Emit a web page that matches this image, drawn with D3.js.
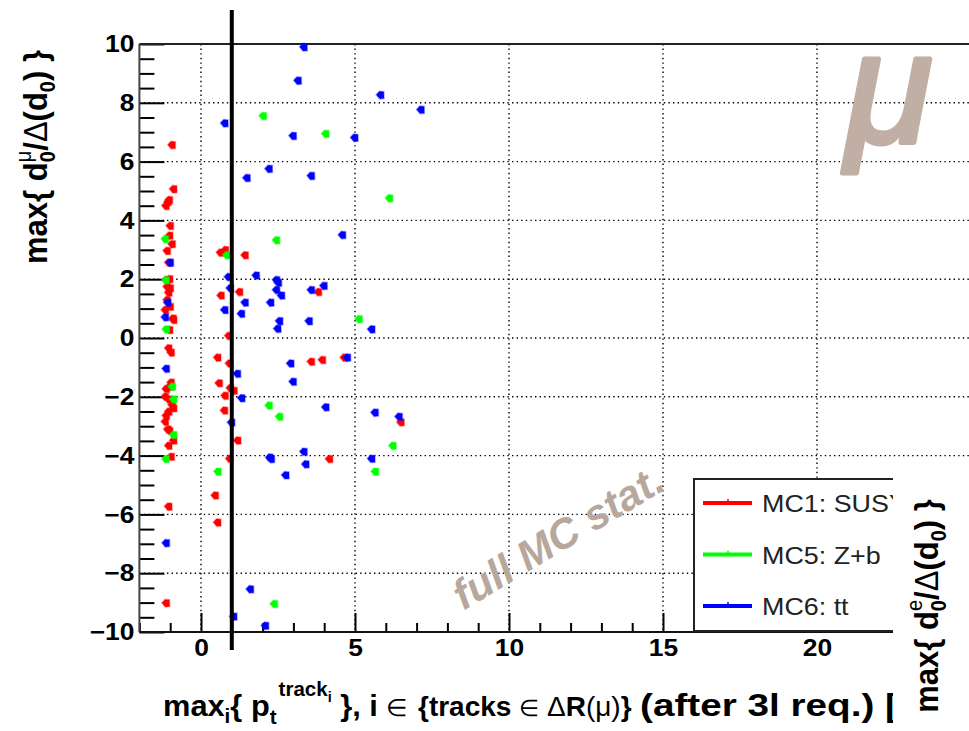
<!DOCTYPE html>
<html><head><meta charset="utf-8">
<script src="https://cdn.jsdelivr.net/npm/d3@7"></script>
<style>
body{margin:0;background:#fff}
svg{display:block}
text{font-family:"Liberation Sans",Arial,Helvetica,sans-serif}
</style></head><body>
<svg id="chart" width="969" height="731"></svg>
<script>
// MC1: SUSY
const susyX=[-0.95,-0.90,-1.04,-1.08,-1.15,-1.01,-1.03,-0.95,-1.11,-1.06,-1.14,-1.03,-1.11,-1.01,-1.06,-1.11,-1.17,-1.01,-0.92,-0.90,-1.03,-1.06,-0.98,-0.98,-1.03,-1.14,-1.17,-1.06,-0.95,-0.90,-1.06,-1.14,-1.17,-1.09,-1.03,-0.90,-1.06,-0.98,-1.06,-1.14,
  0.62,0.78,1.42,0.64,1.24,3.80,0.89,0.53,0.91,3.57,3.93,4.64,0.58,0.94,1.06,0.77,0.75,6.48,1.18,0.92,4.16,0.45,0.53];
const susyY=[6.56,5.06,4.69,4.62,4.49,3.81,3.48,3.19,2.96,2.56,1.97,2.00,1.74,1.69,1.54,1.29,0.95,1.06,0.66,0.61,0.27,-0.35,-0.50,-1.52,-1.66,-1.74,-2.00,-2.09,-2.28,-2.39,-2.51,-2.65,-2.85,-3.11,-3.16,-3.49,-3.67,-4.04,-5.74,-9.02,
  2.90,2.99,2.81,1.44,1.56,1.56,0.07,-0.67,-0.87,-0.81,-0.75,-0.67,-1.54,-1.71,-1.80,-1.97,-2.47,-2.87,-3.49,-4.11,-4.12,-5.36,-6.28];
// MC5: Z+b
const zbX=[2.01,4.04,6.11,2.44,-1.17,0.83,-1.15,-1.14,5.12,-0.94,-0.90,2.20,2.54,-0.90,6.22,-1.15,0.54,5.65,2.37];
const zbY=[7.55,6.94,4.75,3.32,3.36,2.81,1.96,0.29,0.64,-1.66,-2.09,-2.30,-2.68,-3.30,-3.67,-4.12,-4.55,-4.55,-9.05];
// MC6: tt
const ttX=[3.33,3.14,5.82,7.13,0.76,2.98,4.98,2.20,1.48,3.57,4.58,-1.01,0.88,1.78,2.44,2.50,2.44,2.60,3.57,3.98,0.94,1.42,2.25,-1.09,0.76,1.30,2.54,3.50,-1.17,2.48,5.53,
  2.90,4.74,1.17,-1.14,2.98,1.31,4.04,5.64,6.42,0.98,2.22,2.27,3.33,3.39,5.53,2.74,-1.14,1.59,1.05,2.08];
const ttY=[9.89,8.75,8.26,7.76,7.30,6.87,6.81,5.75,5.44,5.51,3.50,2.56,2.07,2.12,1.97,1.88,1.63,1.44,1.63,1.77,1.69,1.20,1.20,1.20,0.95,0.82,0.57,0.57,0.70,0.31,0.29,
  -0.87,-0.67,-1.22,-1.05,-1.49,-2.05,-2.36,-2.54,-2.68,-2.88,-4.07,-4.12,-3.87,-4.30,-4.11,-4.67,-6.98,-8.55,-9.48,-9.79];

const seriesNames=["MC1: SUSY","MC5: Z+b","MC6: tt"];
const seriesColors=["#ff0000","#00ff00","#0000ff"];
const seriesX=[susyX,zbX,ttX];
const seriesY=[susyY,zbY,ttY];

const xMajor=[0,5,10,15,20];
const yMajor=[-10,-8,-6,-4,-2,0,2,4,6,8,10];
const xGrid=[0,5,10,15,20];
const yGrid=[-8,-6,-4,-2,0,2,4,6,8];
const cutValue=1;

const svg=d3.select("#chart");
const x=d3.scaleLinear().domain([-2,25]).range([139.4,971]);
const y=d3.scaleLinear().domain([-10,10]).range([632,44]);
const plotLeft=x(-2), plotTop=y(10), plotBottom=y(-10);

svg.append("rect").attr("width",969).attr("height",731).attr("fill","#fff");

// dotted grid
const grid=svg.append("g").attr("stroke","#000").attr("stroke-width",1.4).attr("stroke-dasharray","1.4 3.2");
grid.selectAll(".gy").data(yGrid).join("line").attr("class","gy")
  .attr("x1",plotLeft).attr("x2",969).attr("y1",d=>y(d)).attr("y2",d=>y(d));
grid.selectAll(".gx").data(xGrid).join("line").attr("class","gx")
  .attr("x1",d=>x(d)).attr("x2",d=>x(d)).attr("y1",plotTop).attr("y2",plotBottom);

// axes (ticks point inward)
const minorY=d3.range(-10,10.01,0.5).filter(v=>Math.abs(v%2)>0.01);
const minorX=d3.range(-2,25.01,1).filter(v=>Math.abs(v%5)>0.01);

const yAxis=svg.append("g").attr("transform",`translate(${plotLeft},0)`)
  .call(d3.axisLeft(y).tickValues(yMajor).tickSize(-25).tickSizeOuter(0).tickPadding(5).tickFormat(d3.format("d")));
svg.append("g").attr("transform",`translate(${plotLeft},0)`)
  .call(d3.axisLeft(y).tickValues(minorY).tickSize(-15).tickSizeOuter(0).tickFormat(""));
const xAxis=svg.append("g").attr("transform",`translate(0,${plotBottom})`)
  .call(d3.axisBottom(x).tickValues(xMajor).tickSize(-19).tickSizeOuter(0).tickPadding(7).tickFormat(d3.format("d")));
svg.append("g").attr("transform",`translate(0,${plotBottom})`)
  .call(d3.axisBottom(x).tickValues(minorX).tickSize(-9).tickSizeOuter(0).tickFormat(""));

svg.selectAll(".domain").remove();
svg.selectAll(".tick line").attr("stroke","#000").attr("stroke-width",2);
yAxis.selectAll("text").attr("font-size",24).attr("font-weight","bold").attr("fill","#000")
  .attr("font-family","'Liberation Sans',Arial,sans-serif")
  .attr("x",-5/1.1).attr("transform","scale(1.1,1)");
xAxis.selectAll("text").attr("font-size",24).attr("font-weight","bold").attr("fill","#000")
  .attr("font-family","'Liberation Sans',Arial,sans-serif")
  .attr("transform","scale(1.1,1)");

// frame
svg.append("line").attr("x1",plotLeft).attr("x2",969).attr("y1",plotTop).attr("y2",plotTop).attr("stroke","#222").attr("stroke-width",2);
svg.append("line").attr("x1",plotLeft).attr("x2",plotLeft).attr("y1",plotTop).attr("y2",plotBottom).attr("stroke","#444").attr("stroke-width",2);
svg.append("line").attr("x1",plotLeft).attr("x2",969).attr("y1",plotBottom).attr("y2",plotBottom).attr("stroke","#111").attr("stroke-width",2);

// markers
const markerPath="M-4,-0.4L-0.8,-3.8L3.6,-3.4L3.7,3.4L-0.6,3.7Z";
const pts=svg.append("g");
seriesX.forEach((xs,i)=>{
  pts.append("g").selectAll("path").data(xs.map((v,j)=>[v,seriesY[i][j]])).join("path")
    .attr("d",markerPath)
    .attr("transform",d=>`translate(${x(d[0])},${y(d[1])})`)
    .attr("fill",seriesColors[i])
    .attr("stroke",seriesColors[i]).attr("stroke-opacity",0.35).attr("stroke-width",1.6);
});

// selection cut
svg.append("line").attr("x1",x(cutValue)).attr("x2",x(cutValue)).attr("y1",10).attr("y2",650)
  .attr("stroke","#000").attr("stroke-width",4);

// channel symbol
svg.append("text").attr("x",889).attr("y",142).attr("text-anchor","middle")
  .attr("font-family","'Liberation Serif','Times New Roman',serif").attr("font-style","italic")
  .attr("font-size",158).attr("fill","#c1aea4").attr("stroke","#c1aea4").attr("stroke-width",5)
  .attr("stroke-linejoin","round").text("μ");

// statistics note
svg.append("text").attr("transform","translate(558,537) rotate(-31)").attr("text-anchor","middle")
  .attr("dominant-baseline","central")
  .attr("font-style","italic").attr("font-weight","bold").attr("font-size",42).attr("fill","#b8a79d")
  .text("full MC stat.");

// x title, laid out in three runs
const xtBase=716;
const xt1=svg.append("text").attr("x",163).attr("y",xtBase)
  .attr("textLength",245).attr("lengthAdjust","spacingAndGlyphs")
  .attr("font-size",30).attr("font-weight","bold").attr("fill","#000");
xt1.append("tspan").text("max");
xt1.append("tspan").attr("font-size",20).attr("dy",7).text("i");
xt1.append("tspan").attr("dy",-7).text("{ p");
xt1.append("tspan").attr("font-size",20).attr("dy",8).text("t");
xt1.append("tspan").attr("font-size",20).attr("dx",2).attr("dy",-28).text("track");
xt1.append("tspan").attr("font-size",14).attr("dy",6).text("i");
xt1.append("tspan").attr("dy",14).text(" }, i ");
xt1.append("tspan").attr("font-weight","normal").attr("font-size",24).text("∈");

const xt2=svg.append("text").attr("x",418).attr("y",xtBase)
  .attr("font-size",28).attr("font-weight","bold").attr("fill","#000");
xt2.append("tspan").text("{tracks ");
xt2.append("tspan").attr("font-weight","normal").attr("font-size",23).text("∈");
xt2.append("tspan").attr("font-weight","normal").text(" Δ");
xt2.append("tspan").text("R");
xt2.append("tspan").attr("font-weight","normal").text("(μ)");
xt2.append("tspan").text("}");

const xt3=svg.append("text").attr("x",640).attr("y",xtBase)
  .attr("textLength",258).attr("lengthAdjust","spacingAndGlyphs")
  .attr("font-size",32).attr("font-weight","bold").attr("fill","#000")
  .text("(after 3l req.) [");

// vertical titles
function dTitle(g,sup){
  g.append("tspan").text("max{ d");
  g.append("tspan").attr("font-size",20).attr("dy",7).text("0");
  g.append("tspan").attr("font-size",20).attr("font-weight","normal").attr("dx",-11).attr("dy",-22).text(sup);
  g.append("tspan").attr("dy",15).text("/");
  g.append("tspan").attr("font-weight","normal").text("Δ");
  g.append("tspan").text("(d");
  g.append("tspan").attr("font-size",20).attr("dy",7).text("0");
  g.append("tspan").attr("dy",-7).text(") }");
}
const yt=svg.append("text").attr("transform","translate(47,157) rotate(-90) scale(1,1.1)")
  .attr("text-anchor","middle").attr("font-size",31).attr("font-weight","bold").attr("fill","#000");
dTitle(yt,"μ");

// legend
const lg=svg.append("g");
lg.append("rect").attr("x",694).attr("y",479).attr("width",300).attr("height",152)
  .attr("fill","#fff").attr("stroke","#222").attr("stroke-width",2);
seriesNames.forEach((n,i)=>{
  const ly=503+i*51.5;
  lg.append("line").attr("x1",703).attr("x2",752).attr("y1",ly).attr("y2",ly)
    .attr("stroke",seriesColors[i]).attr("stroke-width",4);
  lg.append("line").attr("x1",728).attr("x2",728).attr("y1",ly-4).attr("y2",ly)
    .attr("stroke",seriesColors[i]).attr("stroke-width",1.5);
  lg.append("text").attr("transform",`translate(762,${ly+9}) scale(1.12,1)`)
    .attr("font-size",24).attr("fill","#222").text(n);
});

// electron-side axis title panel
svg.append("rect").attr("x",893).attr("y",462).attr("width",76).attr("height",269).attr("fill","#fff");
const rt=svg.append("text").attr("transform","translate(938,606) rotate(-90) scale(1,1.1)")
  .attr("text-anchor","middle").attr("font-size",31).attr("font-weight","bold").attr("fill","#000");
dTitle(rt,"e");
</script>
</body></html>
